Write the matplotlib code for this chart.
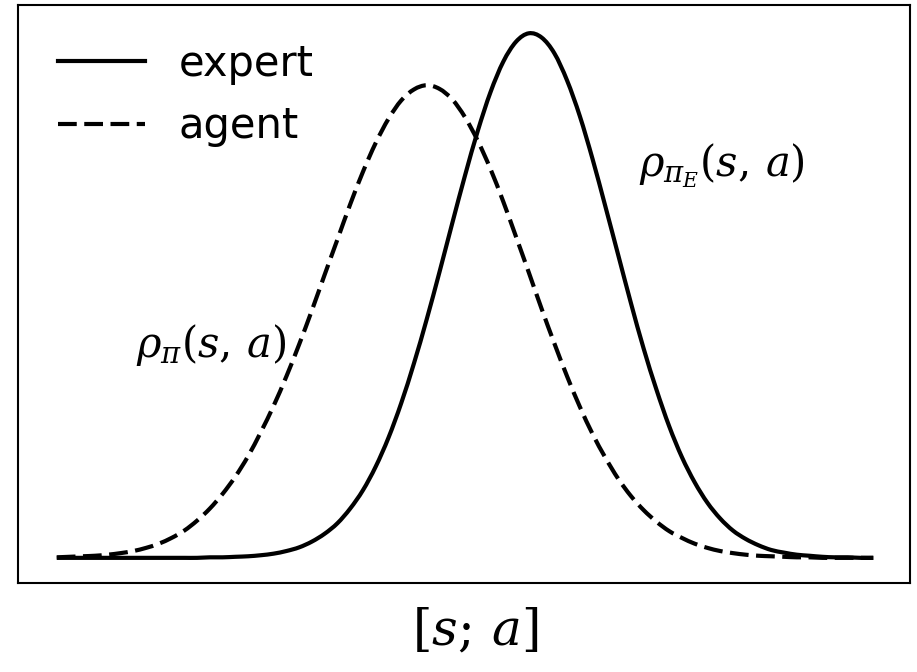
import matplotlib
matplotlib.use("Agg")
import matplotlib.pyplot as plt
from matplotlib.path import Path
from matplotlib.patches import PathPatch
from matplotlib.lines import Line2D

plt.rcParams["mathtext.fontset"] = "dejavuserif"

# state-action axis, sampled every 0.125
x = [-4.0 + 0.125 * k for k in range(65)]

# occupancy measure of the expert policy
expert = [0.000, 0.000, 0.000, 0.000, 0.000, 0.000, 0.000, 0.000,
          0.000, 0.000, 0.000, 0.000, 0.001, 0.001, 0.002, 0.003,
          0.005, 0.008, 0.013, 0.020, 0.031, 0.046, 0.066, 0.094,
          0.129, 0.174, 0.229, 0.295, 0.371, 0.455, 0.545, 0.638,
          0.729, 0.814, 0.888, 0.946, 0.984, 1.000, 0.992, 0.962,
          0.910, 0.842, 0.760, 0.670, 0.578, 0.486, 0.399, 0.321,
          0.251, 0.192, 0.144, 0.105, 0.075, 0.052, 0.036, 0.024,
          0.015, 0.010, 0.006, 0.004, 0.002, 0.001, 0.001, 0.000,
          0.000]

# occupancy measure of the learning agent
agent = [0.001, 0.002, 0.003, 0.004, 0.006, 0.009, 0.013, 0.019,
         0.027, 0.038, 0.052, 0.071, 0.094, 0.122, 0.155, 0.194,
         0.240, 0.290, 0.346, 0.407, 0.472, 0.540, 0.607, 0.674,
         0.736, 0.791, 0.837, 0.872, 0.893, 0.901, 0.894, 0.874,
         0.840, 0.795, 0.741, 0.679, 0.612, 0.544, 0.475, 0.409,
         0.346, 0.288, 0.236, 0.191, 0.151, 0.118, 0.091, 0.069,
         0.051, 0.038, 0.027, 0.019, 0.013, 0.009, 0.006, 0.004,
         0.003, 0.002, 0.001, 0.001, 0.000, 0.000, 0.000, 0.000,
         0.000]


def smooth_path(xs, ys):
    """Catmull-Rom curve through the samples, as cubic Bezier segments."""
    pts = list(zip(xs, ys))
    verts = [pts[0]]
    codes = [Path.MOVETO]
    n = len(pts)
    for i in range(n - 1):
        p0 = pts[max(i - 1, 0)]
        p1 = pts[i]
        p2 = pts[i + 1]
        p3 = pts[min(i + 2, n - 1)]
        c1 = (p1[0] + (p2[0] - p0[0]) / 6, p1[1] + (p2[1] - p0[1]) / 6)
        c2 = (p2[0] - (p3[0] - p1[0]) / 6, p2[1] - (p3[1] - p1[1]) / 6)
        verts += [c1, c2, p2]
        codes += [Path.CURVE4] * 3
    return Path(verts, codes)


fig = plt.figure(figsize=(9.17, 6.72), dpi=100)
ax = fig.add_axes([0.0196, 0.1324, 0.9728, 0.8602])

dash = (0, (4.5, 1.8))
ax.add_patch(PathPatch(smooth_path(x, expert), fill=False, ec="black", lw=3,
                       capstyle="butt"))
ax.add_patch(PathPatch(smooth_path(x, agent), fill=False, ec="black", lw=3,
                       ls=dash, capstyle="butt"))

ax.set_xlim(-4.38, 4.36)
ax.set_ylim(-0.048, 1.054)
ax.set_xticks([])
ax.set_yticks([])
for s in ax.spines.values():
    s.set_linewidth(1.5)

ax.text(-2.49, 0.383, r"$\rho_{\pi}(s,\,a)$", fontsize=30, ha="center", va="baseline")
ax.text(2.52, 0.726, r"$\rho_{\pi_E}(s,\,a)$", fontsize=30, ha="center", va="baseline")
ax.set_xlabel(r"$[s;\,a]$", fontsize=36, va="center")
ax.xaxis.set_label_coords(0.512, -0.083)

handles = [Line2D([], [], color="black", lw=3),
           Line2D([], [], color="black", lw=3, ls=dash)]
ax.legend(handles, ["expert", "agent"], loc="upper left", fontsize=30,
          frameon=False, borderaxespad=0.1, handlelength=2.1,
          bbox_to_anchor=(0.0213, 0.971))

fig.savefig("out.png", dpi=100)
